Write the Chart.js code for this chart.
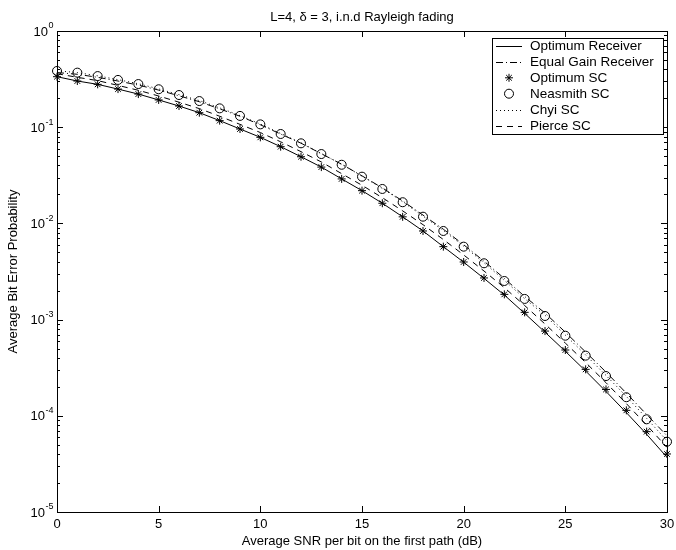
<!DOCTYPE html>
<html>
<head>
<meta charset="utf-8">
<script src="https://cdn.jsdelivr.net/npm/chart.js@4.4.1/dist/chart.umd.min.js"></script>
<style>
  html, body { margin: 0; padding: 0; background: #fff; }
  canvas { display: block; }
</style>
</head>
<body>
<canvas id="berChart" width="676" height="550"></canvas>
<script>
/* ── Data ── */
const snrDb = [0, 1, 2, 3, 4, 5, 6, 7, 8, 9, 10, 11, 12, 13, 14, 15, 16, 17, 18, 19, 20, 21, 22, 23, 24, 25, 26, 27, 28, 29, 30];

const optimumReceiver = [0.335, 0.302, 0.279, 0.249, 0.221, 0.192, 0.166, 0.1415, 0.117, 0.0958, 0.0785, 0.0627, 0.0493, 0.0385, 0.0290, 0.0219, 0.0162, 0.0117, 0.00834, 0.00573, 0.00395, 0.00268, 0.00180, 0.00116, 0.00074, 0.000468, 0.000292, 0.000179, 0.000108, 0.0000642, 0.0000370];
const equalGain       = [0.370, 0.355, 0.330, 0.302, 0.274, 0.243, 0.212, 0.184, 0.155, 0.130, 0.106, 0.0848, 0.0682, 0.0530, 0.0412, 0.0312, 0.0234, 0.0171, 0.0122, 0.0087, 0.0060, 0.00405, 0.00268, 0.00174, 0.00117, 0.00074, 0.00046, 0.000285, 0.000172, 0.000103, 0.000062];
const optimumSC       = [0.335, 0.302, 0.279, 0.249, 0.221, 0.192, 0.166, 0.1415, 0.117, 0.0958, 0.0785, 0.0627, 0.0493, 0.0385, 0.0290, 0.0219, 0.0162, 0.0117, 0.00834, 0.00573, 0.00397, 0.00271, 0.00183, 0.00119, 0.00076, 0.000483, 0.000304, 0.000188, 0.000114, 0.0000684, 0.0000401];
const neasmithSC      = [0.384, 0.369, 0.340, 0.310, 0.281, 0.248, 0.216, 0.187, 0.157, 0.131, 0.107, 0.085, 0.068, 0.0526, 0.0407, 0.0306, 0.0228, 0.0166, 0.01174, 0.00834, 0.00573, 0.00385, 0.00252, 0.00164, 0.00109, 0.00068, 0.000422, 0.000259, 0.000156, 0.000092, 0.0000538];
const chyiSC          = [0.385, 0.370, 0.342, 0.312, 0.283, 0.250, 0.218, 0.189, 0.159, 0.132, 0.108, 0.086, 0.0688, 0.0532, 0.0412, 0.0310, 0.0231, 0.0168, 0.0119, 0.00845, 0.0058, 0.0039, 0.00256, 0.00165, 0.00111, 0.00069, 0.000429, 0.000263, 0.000159, 0.000094, 0.000055];
const pierceSC        = [0.360, 0.330, 0.305, 0.272, 0.242, 0.211, 0.182, 0.156, 0.130, 0.107, 0.088, 0.0705, 0.0557, 0.0435, 0.0329, 0.0249, 0.0185, 0.0135, 0.0097, 0.0068, 0.0047, 0.0032, 0.00215, 0.0014, 0.0009, 0.00057, 0.000358, 0.000221, 0.000134, 0.000080, 0.000047];

const xTickValues = [0, 5, 10, 15, 20, 25, 30];
const yDecades    = [1, 1e-1, 1e-2, 1e-3, 1e-4, 1e-5];
const yExponents  = ['0', '-1', '-2', '-3', '-4', '-5'];
const yMinorSteps = [2, 3, 4, 5, 6, 7, 8, 9];

const titleText  = 'L=4, \u03b4 = 3, i.n.d Rayleigh fading';
const xAxisTitle = 'Average SNR per bit on the first path (dB)';
const yAxisTitle = 'Average Bit Error Probability';

const FONT = '"Liberation Sans", Arial, Helvetica, sans-serif';
const TXT = '13px ' + FONT;
const EXP = '9px ' + FONT;

const pts = arr => snrDb.map((x, i) => ({ x: x, y: arr[i] }));

/* ── Axes, ticks, titles and legend in MATLAB style ── */
const matlabFrame = {
  id: 'matlabFrame',
  afterDraw(chart) {
    const ctx = chart.ctx;
    const a = chart.chartArea;
    const xs = chart.scales.x;
    const ys = chart.scales.y;

    ctx.save();
    ctx.strokeStyle = '#000';
    ctx.lineWidth = 1;

    // frame
    ctx.strokeRect(Math.round(a.left) + 0.5, Math.round(a.top) + 0.5,
                   Math.round(a.right - a.left), Math.round(a.bottom - a.top));

    // x ticks (inward, top and bottom)
    ctx.beginPath();
    xTickValues.forEach(v => {
      const px = Math.round(xs.getPixelForValue(v)) + 0.5;
      ctx.moveTo(px, a.bottom); ctx.lineTo(px, a.bottom - 6);
      ctx.moveTo(px, a.top);    ctx.lineTo(px, a.top + 6);
    });
    // y ticks, major and minor
    yDecades.forEach(d => {
      const py = Math.round(ys.getPixelForValue(d)) + 0.5;
      ctx.moveTo(a.left, py);  ctx.lineTo(a.left + 6, py);
      ctx.moveTo(a.right, py); ctx.lineTo(a.right - 6, py);
      if (d < 1) {
        yMinorSteps.forEach(m => {
          const my = Math.round(ys.getPixelForValue(d * m)) + 0.5;
          ctx.moveTo(a.left, my);  ctx.lineTo(a.left + 3, my);
          ctx.moveTo(a.right, my); ctx.lineTo(a.right - 3, my);
        });
      }
    });
    ctx.stroke();

    ctx.fillStyle = '#000';

    // x tick labels
    ctx.font = TXT;
    ctx.textAlign = 'center';
    ctx.textBaseline = 'top';
    xTickValues.forEach(v => {
      ctx.fillText(String(v), xs.getPixelForValue(v), a.bottom + 6);
    });

    // y tick labels: 10 with superscript exponent
    yDecades.forEach((d, i) => {
      const py = ys.getPixelForValue(d);
      ctx.font = TXT;
      const wBase = ctx.measureText('10').width;
      ctx.font = EXP;
      const wExp = ctx.measureText(yExponents[i]).width;
      const x0 = a.left - 4 - wBase - wExp;
      ctx.textAlign = 'left';
      ctx.textBaseline = 'middle';
      ctx.font = TXT;
      ctx.fillText('10', x0, py + 1);
      ctx.font = EXP;
      ctx.fillText(yExponents[i], x0 + wBase + 0.5, py - 5);
    });

    // titles
    ctx.font = TXT;
    ctx.textAlign = 'center';
    ctx.textBaseline = 'middle';
    ctx.fillText(titleText, (a.left + a.right) / 2, 17);
    ctx.fillText(xAxisTitle, (a.left + a.right) / 2, 541);
    ctx.save();
    ctx.translate(13, (a.top + a.bottom) / 2);
    ctx.rotate(-Math.PI / 2);
    ctx.fillText(yAxisTitle, 0, 0);
    ctx.restore();

    // legend box
    const lx = 492, ly = 38, lw = 171, lh = 96, row = 15.9;
    ctx.fillStyle = '#fff';
    ctx.fillRect(lx, ly, lw, lh);
    ctx.strokeRect(lx + 0.5, ly + 0.5, lw, lh);

    chart.data.datasets.forEach((ds, i) => {
      const cy = ly + 8 + row * i;
      const sx0 = lx + 4, sx1 = lx + 30;
      ctx.strokeStyle = '#000';
      ctx.lineWidth = 1;
      if (ds.showLine !== false) {
        ctx.setLineDash(ds.borderDash || []);
        ctx.beginPath();
        ctx.moveTo(sx0, Math.round(cy) + 0.5);
        ctx.lineTo(sx1, Math.round(cy) + 0.5);
        ctx.stroke();
        ctx.setLineDash([]);
      } else {
        ctx.fillStyle = 'rgba(0,0,0,0)';
        Chart.helpers.drawPoint(ctx, {
          pointStyle: ds.pointStyle, radius: ds.pointRadius,
          rotation: 0, borderWidth: 1
        }, (sx0 + sx1) / 2, cy);
      }
      ctx.fillStyle = '#000';
      ctx.font = '13.5px ' + FONT;
      ctx.textAlign = 'left';
      ctx.textBaseline = 'middle';
      ctx.fillText(ds.label, lx + 38, cy + 0.5);
    });

    ctx.restore();
  }
};

const lineStyle = (label, data, dash) => ({
  label: label,
  data: pts(data),
  borderColor: '#000',
  borderWidth: 1,
  borderDash: dash,
  pointRadius: 0,
  tension: 0,
  fill: false
});

const markerStyle = (label, data, style, radius) => ({
  label: label,
  data: pts(data),
  showLine: false,
  pointStyle: style,
  pointRadius: radius,
  pointBorderWidth: 1,
  pointBorderColor: '#000',
  pointBackgroundColor: 'rgba(0,0,0,0)',
  borderColor: '#000',
  clip: false
});

new Chart(document.getElementById('berChart'), {
  type: 'line',
  data: {
    datasets: [
      lineStyle('Optimum Receiver', optimumReceiver, []),
      lineStyle('Equal Gain Receiver', equalGain, [7, 3, 1, 3]),
      markerStyle('Optimum SC', optimumSC, 'star', 4),
      markerStyle('Neasmith SC', neasmithSC, 'circle', 4.5),
      lineStyle('Chyi SC', chyiSC, [1, 3]),
      lineStyle('Pierce SC', pierceSC, [6, 5])
    ]
  },
  options: {
    responsive: false,
    animation: false,
    devicePixelRatio: 1,
    layout: { padding: { top: 31, right: 9, left: 0, bottom: 0 } },
    plugins: {
      legend: { display: false },
      tooltip: { enabled: false },
      title: { display: false }
    },
    scales: {
      x: {
        type: 'linear',
        min: 0,
        max: 30,
        grid: { display: false },
        border: { display: false },
        ticks: { display: false, stepSize: 5 },
        afterFit: s => { s.height = 38; s.paddingLeft = 0; s.paddingRight = 0; }
      },
      y: {
        type: 'logarithmic',
        min: 1e-5,
        max: 1,
        grid: { display: false },
        border: { display: false },
        ticks: { display: false },
        afterFit: s => { s.width = 57; }
      }
    }
  },
  plugins: [matlabFrame]
});
</script>
</body>
</html>
